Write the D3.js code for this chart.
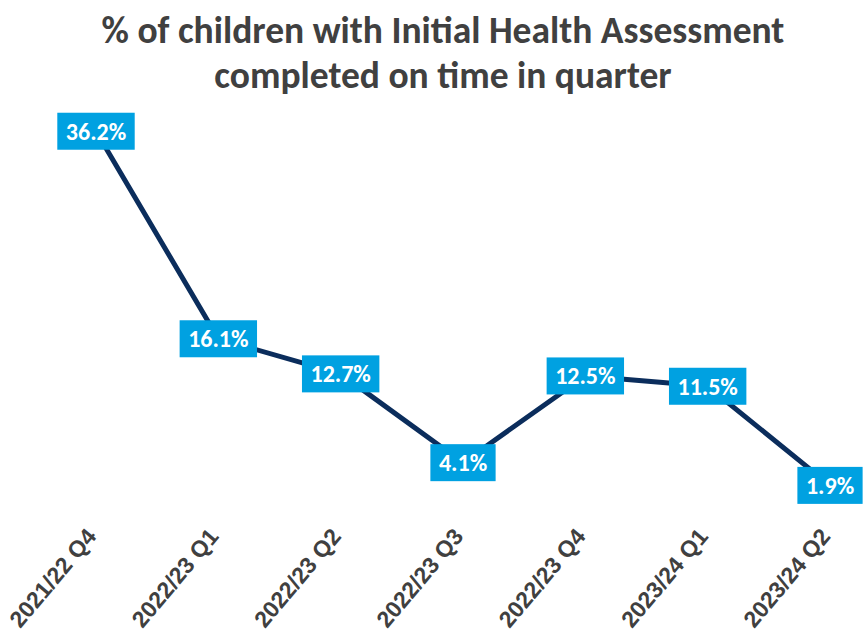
<!DOCTYPE html>
<html>
<head>
<meta charset="utf-8">
<script src="https://cdn.jsdelivr.net/npm/d3@7"></script>
<style>
  body { margin: 0; background: #fff; }
</style>
</head>
<body>
<div id="chart"></div>
<script>
// quarters and the % done on time
var quarters = ["2021/22 Q4", "2022/23 Q1", "2022/23 Q2", "2022/23 Q3", "2022/23 Q4", "2023/24 Q1", "2023/24 Q2"];
var pctOnTime = [36.2, 16.1, 12.7, 4.1, 12.5, 11.5, 1.9];
var titleLines = ["% of children with Initial Health Assessment", "completed on time in quarter"];

var svgWidth = 866;
var svgHeight = 632;

var svg = d3.select("#chart")
  .append("svg")
  .attr("width", svgWidth)
  .attr("height", svgHeight);

var x = d3.scalePoint()
  .domain(quarters)
  .range([96, 830]);

var y = d3.scaleLinear()
  .domain([0, 40])
  .range([505, 92]);

// title
svg.selectAll(".title")
  .data(titleLines)
  .enter()
  .append("text")
  .attr("class", "title")
  .attr("x", 443)
  .attr("y", (d, i) => 43 + i * 45)
  .attr("text-anchor", "middle")
  .style("font-family", "Carlito, Lato, sans-serif")
  .style("font-weight", "bold")
  .style("font-size", "37.5px")
  .attr("fill", "#404040")
  .text(d => d);

// x axis, labels only
var xAxis = svg.append("g")
  .attr("transform", "translate(0,520)")
  .call(d3.axisBottom(x).tickSize(0).tickPadding(0));
xAxis.select(".domain").remove();
xAxis.selectAll("text")
  .style("font-family", "'Liberation Sans', Arial, sans-serif")
  .style("font-weight", "bold")
  .style("font-size", "23px")
  .attr("fill", "#404040")
  .attr("text-anchor", "end")
  .attr("y", 0)
  .attr("dy", 0)
  .attr("transform", "translate(1,17) rotate(-50)");

// the line
var line = d3.line()
  .x((d, i) => x(quarters[i]))
  .y(d => y(d));

svg.append("path")
  .datum(pctOnTime)
  .attr("d", line)
  .attr("fill", "none")
  .attr("stroke", "#0b2d5c")
  .attr("stroke-width", 5)
  .attr("stroke-linejoin", "round");

// value labels in blue boxes
var labels = svg.selectAll(".lbl")
  .data(pctOnTime)
  .enter()
  .append("g")
  .attr("class", "lbl")
  .attr("transform", (d, i) => `translate(${x(quarters[i])},${y(d)})`);

labels.append("rect")
  .attr("fill", "#00a1e1");

labels.append("text")
  .attr("text-anchor", "middle")
  .attr("dy", "0.35em")
  .style("font-family", "Carlito, Lato, sans-serif")
  .style("font-weight", "bold")
  .style("font-size", "24px")
  .attr("fill", "#fff")
  .text(d => d.toFixed(1) + "%");

labels.each(function() {
  var g = d3.select(this);
  var w = g.select("text").node().getComputedTextLength();
  g.select("rect")
    .attr("x", -w / 2 - 8.5)
    .attr("y", -18.5)
    .attr("width", w + 17)
    .attr("height", 37);
});
</script>
</body>
</html>
